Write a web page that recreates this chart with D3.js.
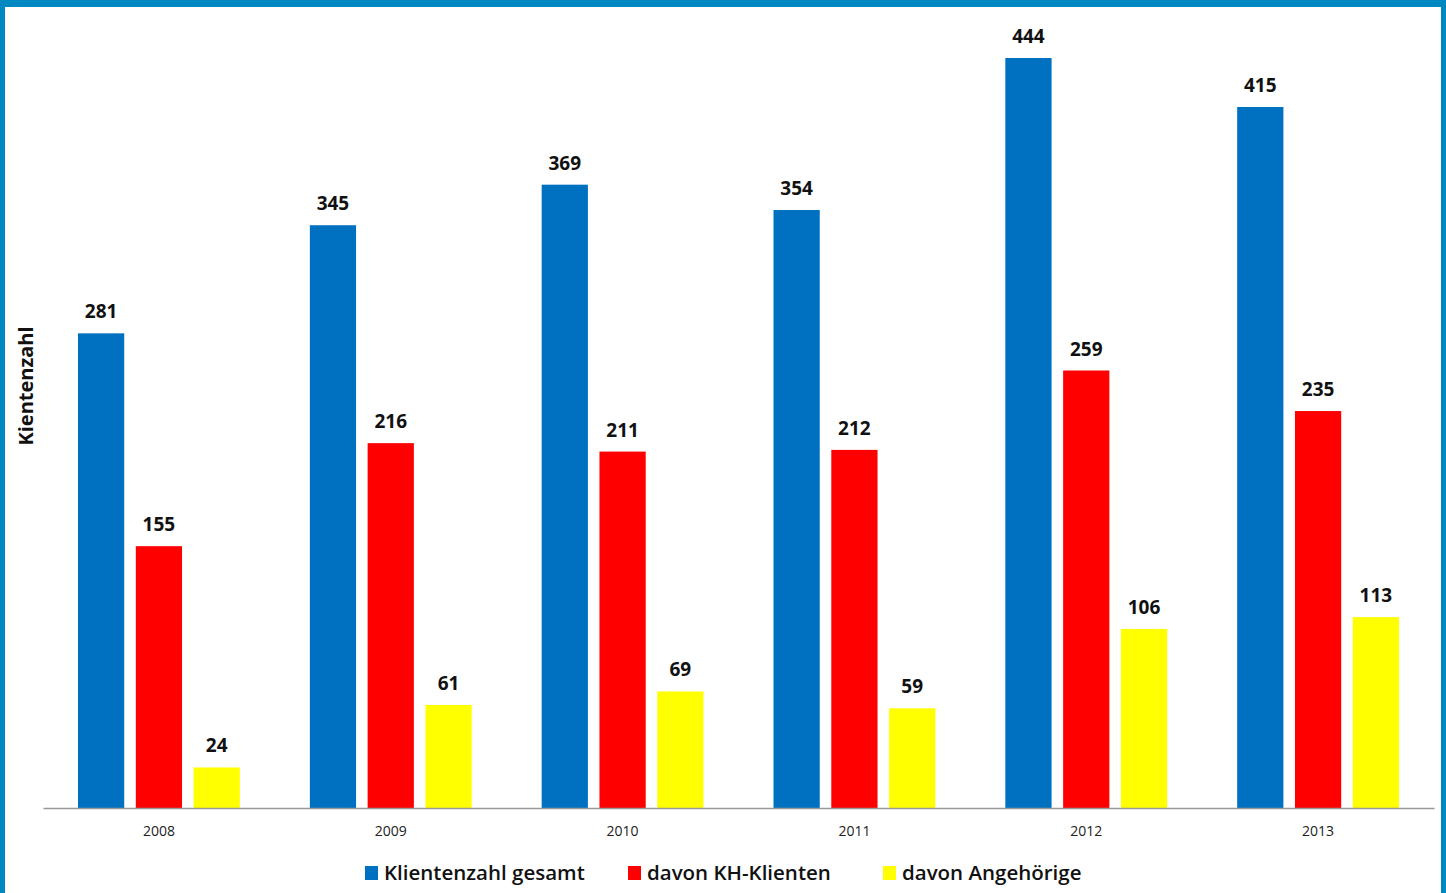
<!DOCTYPE html>
<html><head><meta charset="utf-8">
<script src="https://cdn.jsdelivr.net/npm/d3@7"></script>
<style>body{margin:0;background:#fff}svg{display:block}</style>
</head><body>
<script>
const years = ["2008","2009","2010","2011","2012","2013"];
const seriesNames = ["Klientenzahl gesamt","davon KH-Klienten","davon Angehörige"];
const gesamt = [281,345,369,354,444,415];
const kh = [155,216,211,212,259,235];
const angehoerige = [24,61,69,59,106,113];
const colors = ["#0070C0","#FF0000","#FFFF00"];

const W=1446,H=893;
const svg=d3.select("body").append("svg").attr("width",W).attr("height",H);
// frame
svg.append("rect").attr("x",0).attr("y",0).attr("width",W).attr("height",H).attr("fill","#0088C0");
svg.append("rect").attr("x",5).attr("y",7).attr("width",1436).attr("height",H-7).attr("fill","#fff");

const x0=d3.scaleBand().domain(years).range([43,1434]).paddingInner(0).paddingOuter(0);
const x1=d3.scaleBand().domain(seriesNames).range([35,x0.bandwidth()-35]).paddingInner(0.2).paddingOuter(0);
const y=d3.scaleLinear().domain([0,444]).range([808,58]);

const series=[gesamt,kh,angehoerige];
const data=[];
years.forEach((yr,i)=>series.forEach((s,j)=>data.push({yr,name:seriesNames[j],v:s[i],c:colors[j]})));

const g=svg.append("g");
g.selectAll("rect.bar").data(data).join("rect").attr("class","bar")
 .attr("x",d=>x0(d.yr)+x1(d.name)).attr("width",x1.bandwidth())
 .attr("y",d=>y(d.v)).attr("height",d=>y(0)-y(d.v)).attr("fill",d=>d.c);
g.selectAll("text.val").data(data).join("text").attr("class","val")
 .attr("x",d=>x0(d.yr)+x1(d.name)+x1.bandwidth()/2).attr("y",d=>y(d.v)-15)
 .attr("text-anchor","middle").attr("font-family","Open Sans, sans-serif").attr("font-weight","bold")
 .attr("font-size",19).attr("fill","#111").text(d=>d.v);

// x axis
const ax=svg.append("g").attr("transform","translate(0,808)").call(d3.axisBottom(x0).tickSize(0).tickPadding(18));
ax.select(".domain").attr("stroke","#999").attr("stroke-width",1.5);
ax.selectAll("text").attr("font-family","Open Sans, sans-serif").attr("font-size",14).attr("fill","#222");

// y title
svg.append("text").attr("transform","translate(33,386) rotate(-90)").attr("text-anchor","middle")
 .attr("font-family","Open Sans, sans-serif").attr("font-weight","bold").attr("font-size",20).attr("fill","#111").text("Kientenzahl");

// legend
const lx=[365,628,883];
const lg=svg.selectAll("g.leg").data(seriesNames).join("g").attr("class","leg")
 .attr("transform",(d,i)=>`translate(${lx[i]},873)`);
lg.append("rect").attr("x",0).attr("y",-7).attr("width",13).attr("height",14).attr("fill",(d,i)=>colors[i]);
lg.append("text").attr("x",19).attr("y",7).attr("font-family","Open Sans, sans-serif").attr("font-weight",600).attr("font-size",20.5).attr("fill","#111").text(d=>d);
</script>
</body></html>
